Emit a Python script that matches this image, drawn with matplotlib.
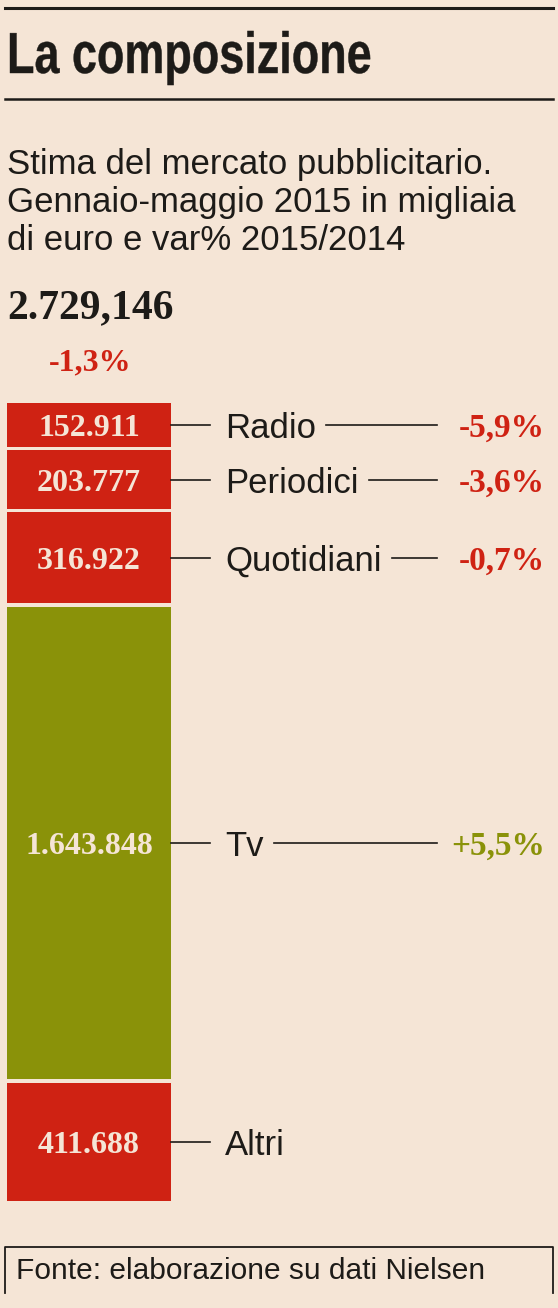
import matplotlib
matplotlib.use("Agg")
import matplotlib.pyplot as plt
from matplotlib.lines import Line2D
from matplotlib.textpath import TextPath
from matplotlib.patches import PathPatch
from matplotlib.font_manager import FontProperties
from matplotlib.transforms import Affine2D

# data (migliaia di euro, gennaio-maggio 2015)
categories = ["Radio", "Periodici", "Quotidiani", "Tv", "Altri"]
values = [152911, 203777, 316922, 1643848, 411688]
value_labels = ["152.911", "203.777", "316.922", "1.643.848", "411.688"]
changes = ["-5,9%", "-3,6%", "-0,7%", "+5,5%", None]
total_label = "2.729,146"
total_change = "-1,3%"

title = "La composizione"
subtitle = ["Stima del mercato pubblicitario.",
            "Gennaio-maggio 2015 in migliaia",
            "di euro e var% 2015/2014"]
source = "Fonte: elaborazione su dati Nielsen"

BG = "#f5e5d6"
RED = "#cf2213"
OLIVE = "#8a9209"
INK = "#1d1b18"

SANS = ["Liberation Sans", "DejaVu Sans"]
SERIF = ["Liberation Serif", "DejaVu Serif"]

W, H = 558, 1308
fig = plt.figure(figsize=(W / 100, H / 100), dpi=100, facecolor=BG)


def fx(x):
    return x / W


def fy(y):
    return 1 - y / H


# header: condensed bold title drawn as a squeezed text path
fig.add_artist(Line2D([fx(5), fx(553)], [fy(8), fy(8)], color=INK, lw=2.2))
tp = TextPath((0, 0), title, size=58,
              prop=FontProperties(family=SANS, weight="bold"))
squeeze = Affine2D().scale(0.775, 1).translate(7, H - 73)
fig.add_artist(PathPatch(tp, transform=squeeze, facecolor=INK,
                         edgecolor=INK, lw=0.3))
fig.add_artist(Line2D([fx(5), fx(553)], [fy(99), fy(99)], color=INK, lw=1.8))

for i, line in enumerate(subtitle):
    fig.text(fx(7), fy(174 + 38 * i), line, family=SANS, fontsize=25,
             color=INK, va="baseline")

fig.text(fx(7), fy(318), total_label, family=SERIF, weight="bold",
         fontsize=30, color=INK, va="baseline")
fig.text(fx(49), fy(370), total_change, family=SERIF, weight="bold",
         fontsize=23, color=RED, va="baseline")

# stacked column
ax = fig.add_axes([0, fy(1201), 1, (1201 - 403) / H])
ax.set_facecolor(BG)
ax.axis("off")
gap = 12000
total = sum(values)
bottoms = []
acc = 0
for v in values:
    bottoms.append(acc)
    acc += v + gap
colors = [OLIVE if (c or "").startswith("+") else RED for c in changes]

ax.bar([89] * len(values), values, bottom=bottoms, width=164, color=colors)
ax.set_xlim(0, W)
ax.set_ylim(total + gap * (len(values) - 1), 0)

labels = []
for cat, v, b, vl in zip(categories, values, bottoms, value_labels):
    mid = b + v / 2
    ax.text(89, mid, vl, ha="center", va="center_baseline", family=SERIF,
            weight="bold", fontsize=23, color=BG)
    ax.plot([171, 210], [mid, mid], color=INK, lw=1.2)
    labels.append(ax.text(225, mid, cat, ha="left", va="center_baseline",
                          family=SANS, fontsize=25, color=INK))

fig.canvas.draw()
inv = ax.transData.inverted()
for t, v, b, ch, col in zip(labels, values, bottoms, changes, colors):
    if ch is None:
        continue
    mid = b + v / 2
    x_end = inv.transform((t.get_window_extent().x1, 0))[0]
    ax.plot([x_end + 10, 437], [mid, mid], color=INK, lw=1.2)
    ax.text(545, mid, ch, ha="right", va="center_baseline", family=SERIF,
            weight="bold", fontsize=24, color=col)

# source box
fig.add_artist(Line2D([fx(5), fx(5), fx(553), fx(553)],
                      [fy(1293), fy(1247), fy(1247), fy(1293)],
                      color=INK, lw=1.3))
fig.text(fx(16), fy(1279), source, family=SANS, fontsize=21.5, color=INK,
         va="baseline")

fig.savefig("out.png", dpi=100, facecolor=BG)
